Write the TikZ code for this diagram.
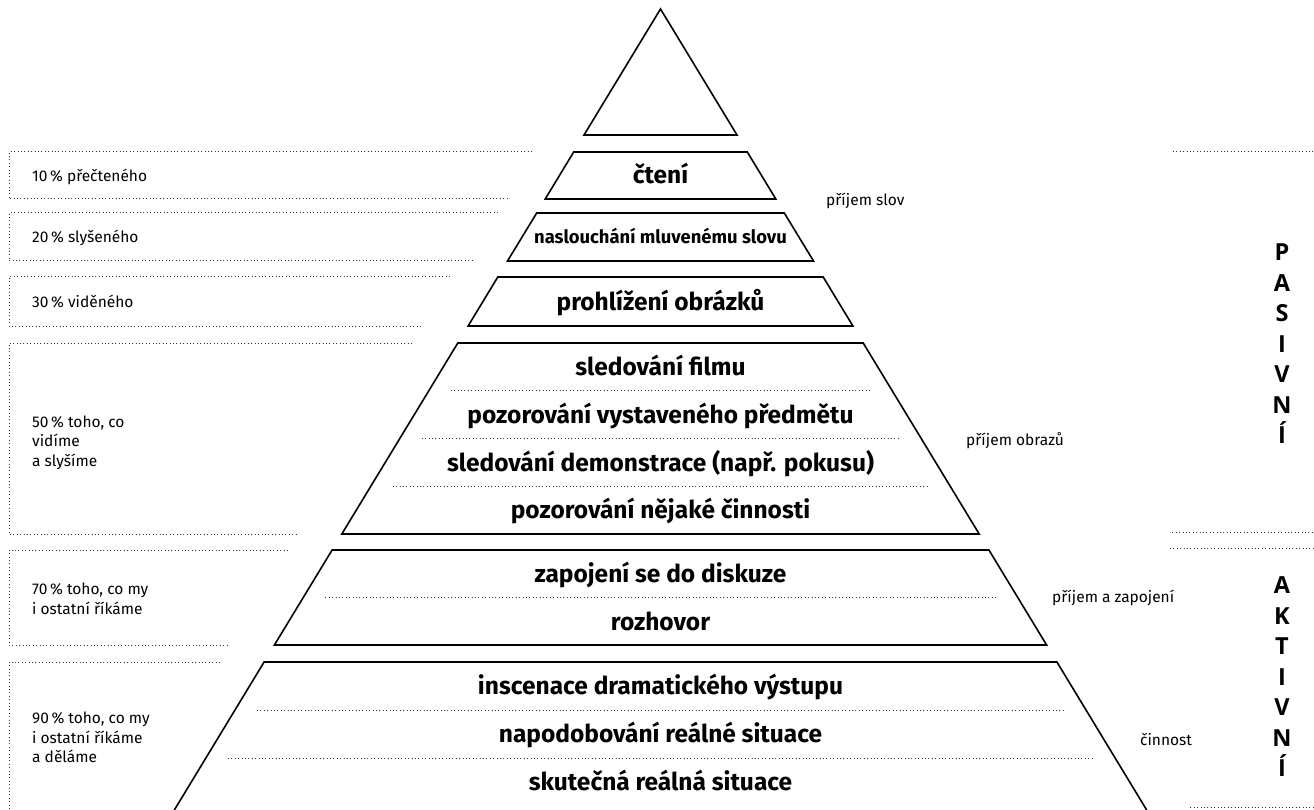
\documentclass[tikz,border=0pt]{standalone}
\usepackage{fontspec}
\setmainfont{Fira Sans}
\newfontfamily\capsfont{Open Sans}
\usepackage{tikz}
\usetikzlibrary{positioning}
\tikzset{
    layer/.style = {draw=black, line width=1.6pt, line join=miter},
    divider/.style = {draw=black!80, line width=1pt, dash pattern=on 1pt off 2.4pt},
    sidebox/.style = {draw=black!80, line width=1pt, dash pattern=on 1pt off 2.4pt},
    lvltext/.style = {anchor=base, inner sep=0pt, font=\fontsize{24.5}{28}\selectfont\bfseries},
    lvlsmall/.style = {anchor=base, inner sep=0pt, font=\fontsize{18.4}{22}\selectfont\bfseries},
    sidetext/.style = {anchor=base west, inner sep=0pt, align=left, font=\fontsize{15.5}{19.4}\selectfont},
    kindtext/.style = {anchor=base west, inner sep=0pt, font=\fontsize{15.5}{19}\selectfont},
    vertword/.style = {anchor=base, inner sep=0pt, align=center, font=\capsfont\bfseries\fontsize{23.5}{30.5}\selectfont}
}

\begin{document}
\begin{tikzpicture}[x=1pt,y=-1pt]
\useasboundingbox (0,0) rectangle (1314,810);
\clip (0,0) rectangle (1314,810);
%
% pyramid
\draw[layer] (660.5,9) -- (737,135) -- (584,135) -- cycle;
\draw[layer] (573.7,152) -- (747.3,152) -- (775.8,199) -- (545.2,199) -- cycle;
\draw[layer] (536.7,213) -- (784.3,213) -- (813.5,261) -- (507.5,261) -- cycle;
\draw[layer] (497.8,277) -- (823.2,277) -- (852.9,326) -- (468.1,326) -- cycle;
\draw[layer] (457.8,343) -- (863.2,343) -- (979.2,534) -- (341.8,534) -- cycle;
\draw[layer] (332.1,550) -- (988.9,550) -- (1046.6,645) -- (274.4,645) -- cycle;
\draw[layer] (264.1,662) -- (1056.9,662) -- (1158.8,830) -- (162.2,830) -- cycle;
%
\draw[divider] (450.8,390.75) -- (870.2,390.75);
\draw[divider] (421.8,438.5) -- (899.2,438.5);
\draw[divider] (392.8,486.25) -- (928.2,486.25);
\draw[divider] (325.3,597.5) -- (995.7,597.5);
\draw[divider] (257,710) -- (1064,710);
\draw[divider] (227.9,758) -- (1093.1,758);
%
% texts in the layers
\node[lvltext] at (660.5,184) (cteni) {čtení};
\node[lvlsmall] at (660.5,243.5) (naslouch) {naslouchání mluvenému slovu};
\node[lvltext] at (660.5,310) (obrazky) {prohlížení obrázků};
\node[lvltext] at (660.5,375.5) (film) {sledování filmu};
\node[lvltext] at (660.5,423) (predmet) {pozorování vystaveného předmětu};
\node[lvltext] at (660.5,471) (demo) {sledování demonstrace (např. pokusu)};
\node[lvltext] at (660.5,518.5) (cinnost) {pozorování nějaké činnosti};
\node[lvltext] at (660.5,582) (diskuze) {zapojení se do diskuze};
\node[lvltext] at (660.5,630) (rozhovor) {rozhovor};
\node[lvltext] at (660.5,694.5) (drama) {inscenace dramatického výstupu};
\node[lvltext] at (660.5,742.5) (napodob) {napodobování reálné situace};
\node[lvltext] at (660.5,790.5) (realna) {skutečná reálná situace};
%
% boxes on the left
\draw[sidebox] (532,152) -- (9,152) -- (9,199) -- (510,199);
\draw[sidebox] (498,213) -- (9,213) -- (9,261) -- (472,261);
\draw[sidebox] (450,277) -- (9,277) -- (9,326) -- (422,326);
\draw[sidebox] (412,343) -- (9,343) -- (9,534) -- (296,534);
\draw[sidebox] (288,550) -- (9,550) -- (9,645) -- (228,645);
\draw[sidebox] (220,662) -- (9,662) -- (9,830);
%
\node[sidetext] at (32,181.5) (p10) {10\,\% přečteného};
\node[sidetext] at (32,242.5) (p20) {20\,\% slyšeného};
\node[sidetext] at (32,307) (p30) {30\,\% viděného};
\node[sidetext] at (32,466) (p50) {50\,\% toho, co\\vidíme\\a slyšíme};
\node[sidetext] at (32,614) (p70) {70\,\% toho, co my\\i ostatní říkáme};
\node[sidetext] at (32,762.7) (p90) {90\,\% toho, co my\\i ostatní říkáme\\a děláme};
%
% right side
\node[kindtext] at (826,206) (slova) {příjem slov};
\node[kindtext] at (966,445) (obrazy) {příjem obrazů};
\node[kindtext] at (1052,602.7) (zapojeni) {příjem a zapojení};
\node[kindtext] at (1140,745) (akce) {činnost};
%
\draw[sidebox] (1173,152) -- (1330,152) -- (1330,532) -- (1170,532);
\draw[sidebox] (1170,548) -- (1330,548) -- (1330,807) -- (1188,807);
%
\node[vertword] at (1282,443.5) (pasivni) {P\\A\\S\\I\\V\\N\\Í};
\node[vertword] at (1282,776.7) (aktivni) {A\\K\\T\\I\\V\\N\\Í};

\end{tikzpicture}
\end{document}
